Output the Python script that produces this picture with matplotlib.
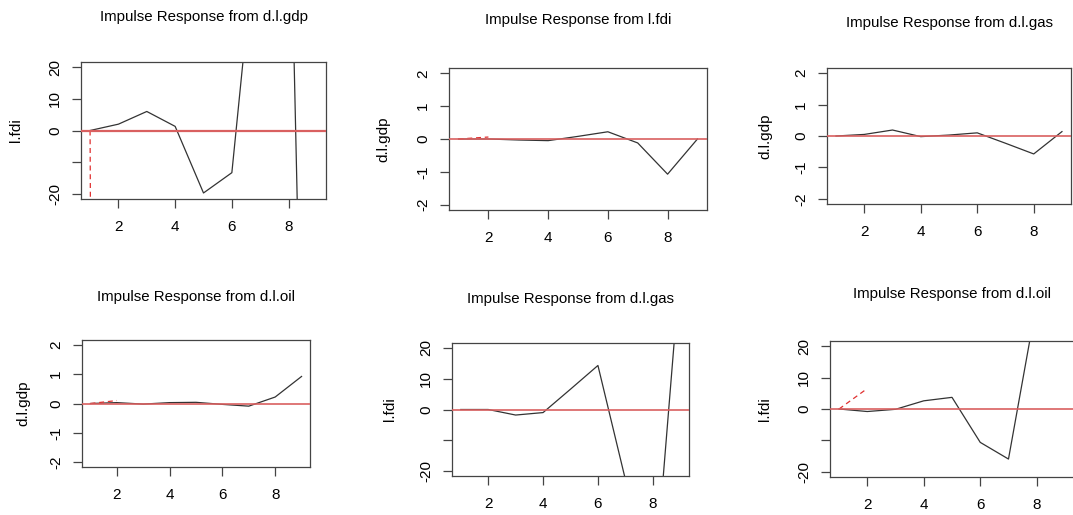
import numpy as np
import matplotlib.pyplot as plt

plt.rcParams['font.family'] = ['Liberation Sans', 'DejaVu Sans']
plt.rcParams['axes.unicode_minus'] = False

### Horizon steps
steps = np.arange(1, 10)

### Impulse responses (one series per panel)
irf_gdp_to_fdi = [0, 2.0, 6.0, 1.3, -19.7, -13.3, 76, 100, -300]
irf_fdi_to_gdp = [0, 0.0, -0.03, -0.05, 0.08, 0.22, -0.12, -1.07, 0.0]
irf_gas_to_gdp = [0, 0.05, 0.19, -0.02, 0.03, 0.10, -0.23, -0.57, 0.14]
irf_oil_to_gdp = [0, 0.03, -0.02, 0.03, 0.04, -0.03, -0.09, 0.22, 0.92]
irf_gas_to_fdi = [0, 0.0, -1.8, -1.0, 6.6, 14.3, -22.7, -63.5, 46]
irf_oil_to_fdi = [0, -0.8, -0.1, 2.6, 3.7, -10.6, -15.9, 34, 60]

### Confidence band pieces that stay inside the plot window
ci_gdp_to_fdi = [0, -2000]
ci_fdi_to_gdp = [0, 0.06]
ci_oil_to_gdp = [0, 0.10]
ci_oil_to_fdi = [0, 6.5]

titles = ['Impulse Response from d.l.gdp', 'Impulse Response from l.fdi',
          'Impulse Response from d.l.gas', 'Impulse Response from d.l.oil',
          'Impulse Response from d.l.gas', 'Impulse Response from d.l.oil']
ylabels = ['l.fdi', 'd.l.gdp', 'd.l.gdp', 'd.l.gdp', 'l.fdi', 'l.fdi']
series = [irf_gdp_to_fdi, irf_fdi_to_gdp, irf_gas_to_gdp,
          irf_oil_to_gdp, irf_gas_to_fdi, irf_oil_to_fdi]
bands = [ci_gdp_to_fdi, ci_fdi_to_gdp, None, ci_oil_to_gdp, None, ci_oil_to_fdi]
big = [True, False, False, False, True, True]

W, H = 1073, 515
fig = plt.figure(figsize=(W / 100, H / 100), dpi=100)

# box in pixels: left, top, right, bottom ; title y ; ylabel x
boxes = [(81, 62, 326, 199), (449, 68, 707, 210), (827, 68, 1071, 204),
         (82, 340, 310, 467), (452, 343, 689, 476), (830, 341, 1074, 477)]
title_y = [17, 20, 23, 297, 299, 294]
ylab_x = [16, 383, 765, 23, 390, 765]

for i in range(6):
    l, t, r, b = boxes[i]
    ax = fig.add_axes([l / W, 1 - b / H, (r - l) / W, (b - t) / H])
    ax.plot(steps, series[i], color='#333333', lw=0.9, zorder=2)
    if bands[i] is not None:
        ax.plot(steps[:len(bands[i])], bands[i], color='#e03030', lw=0.9,
                ls=(0, (4, 3)), zorder=3)
    ax.axhline(0, color='#d96060', lw=1.6 if i == 0 else 1.2, zorder=4)
    ax.set_xlim(0.68, 9.32)
    if big[i]:
        ax.set_ylim(-21.6, 21.6)
        ax.set_yticks([-20, -10, 0, 10, 20])
        ax.set_yticklabels(['-20', '', '0', '10', '20'])
    else:
        ax.set_ylim(-2.16, 2.16)
        ax.set_yticks([-2, -1, 0, 1, 2])
    ax.set_xticks([2, 4, 6, 8])
    ax.tick_params(length=6.5, width=0.9, labelsize=11, color='#444444')
    ax.tick_params(axis='x', pad=8.5)
    ax.tick_params(axis='y', labelrotation=90, pad=7)
    for lab in ax.get_yticklabels():
        lab.set_va('center')
    for s in ax.spines.values():
        s.set_color('#444444')
        s.set_linewidth(0.9)

    fig.text((l + r) / 2 / W, 1 - title_y[i] / H, titles[i],
             ha='center', va='center', fontsize=10.8)
    fig.text(ylab_x[i] / W, 1 - (t + b) / 2 / H, ylabels[i],
             ha='center', va='center', rotation=90, fontsize=11)

plt.savefig('out.png', dpi=100)
